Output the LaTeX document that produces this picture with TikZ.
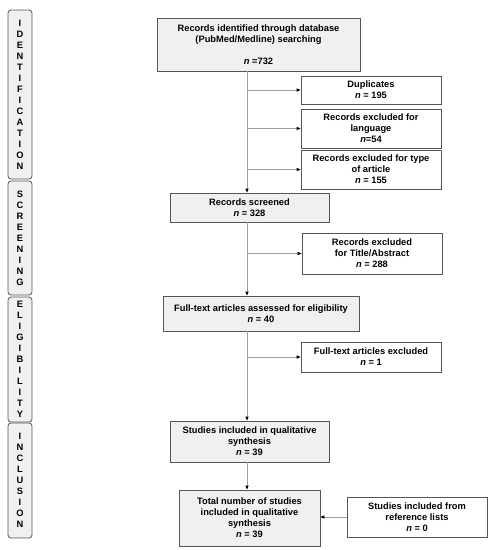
\documentclass[tikz,border=0pt]{standalone}
\usepackage{fontspec}
\setmainfont{Liberation Sans}
\usetikzlibrary{arrows.meta}
\definecolor{boxgray}{HTML}{F0F0F0}
\definecolor{edgegray}{HTML}{555555}
\definecolor{linegray}{HTML}{A0A0A0}
\begin{document}
\begin{tikzpicture}[x=1pt,y=-1pt,
  every node/.style={font=\fontsize{9.3}{11}\selectfont\bfseries, inner sep=0pt, align=center},
  mainbox/.style={draw=edgegray, line width=0.8pt, fill=boxgray},
  sidebox/.style={draw=edgegray, line width=0.8pt, fill=white},
  phase/.style={draw=edgegray, line width=0.8pt, fill=boxgray, rounded corners=3pt, minimum width=24pt},
  arr/.style={draw=linegray, line width=0.8pt, -{Triangle[length=4pt,width=3.2pt,fill=black,color=black]}}
]
\useasboundingbox (0,0) rectangle (492,550);
\coordinate (spine) at (247,0);

% phase bars
\node[phase, minimum height=169pt] (pid) at (20,94.5) {I\\D\\E\\N\\T\\I\\F\\I\\C\\A\\T\\I\\O\\N};
\node[phase, minimum height=114pt] (pscr) at (20,238) {S\\C\\R\\E\\E\\N\\I\\N\\G};
\node[phase, minimum height=125pt] (peli) at (20,359.5) {E\\L\\I\\G\\I\\B\\I\\L\\I\\T\\Y};
\node[phase, minimum height=115pt] (pinc) at (20,480.5) {I\\N\\C\\L\\U\\S\\I\\O\\N};

% main boxes
\node[mainbox, minimum width=203pt, minimum height=53pt] (ident) at (258.5,44.5)
  {Records identified through database\\(PubMed/Medline) searching\\[11pt]\textit{n} =732};
\node[mainbox, minimum width=159pt, minimum height=29pt] (screen) at (249.5,207.5)
  {Records screened\\\textit{n} = 328};
\node[mainbox, minimum width=196pt, minimum height=35pt] (assess) at (261,313.5)
  {Full-text articles assessed for eligibility\\\textit{n} = 40};
\node[mainbox, minimum width=159pt, minimum height=41pt] (incl) at (249.5,441.5)
  {Studies included in qualitative\\synthesis\\\textit{n} = 39};
\node[mainbox, minimum width=141pt, minimum height=56pt] (total) at (249.5,518)
  {Total number of studies\\included in qualitative\\synthesis\\\textit{n} = 39};

% side boxes
\node[sidebox, minimum width=140pt, minimum height=28pt] (dup) at (371,90)
  {Duplicates\\\textit{n} = 195};
\node[sidebox, minimum width=140pt, minimum height=39pt] (lang) at (371,128.5)
  {Records excluded for\\language\\\textit{n}=54};
\node[sidebox, minimum width=140pt, minimum height=39pt] (type) at (371,169.5)
  {Records excluded for type\\of article\\\textit{n} = 155};
\node[sidebox, minimum width=140pt, minimum height=41pt] (title) at (372,253.5)
  {Records excluded\\for Title/Abstract\\\textit{n} = 288};
\node[sidebox, minimum width=140pt, minimum height=30pt] (ftex) at (371,357)
  {Full-text articles excluded\\\textit{n} = 1};
\node[sidebox, minimum width=140pt, minimum height=40pt] (ref) at (417,517)
  {Studies included from\\reference lists\\\textit{n} = 0};

% connectors
\draw[arr] (ident.south -| spine) -- (screen.north -| spine);
\draw[arr] (screen.south -| spine) -- (assess.north -| spine);
\draw[arr] (assess.south -| spine) -- (incl.north -| spine);
\draw[arr] (incl.south -| spine) -- (total.north -| spine);
\draw[arr] (dup.west -| spine) -- (dup.west);
\draw[arr] (lang.west -| spine) -- (lang.west);
\draw[arr] (type.west -| spine) -- (type.west);
\draw[arr] (title.west -| spine) -- (title.west);
\draw[arr] (ftex.west -| spine) -- (ftex.west);
\draw[arr] (ref.west) -- (total.east |- ref.west);
\end{tikzpicture}
\end{document}
